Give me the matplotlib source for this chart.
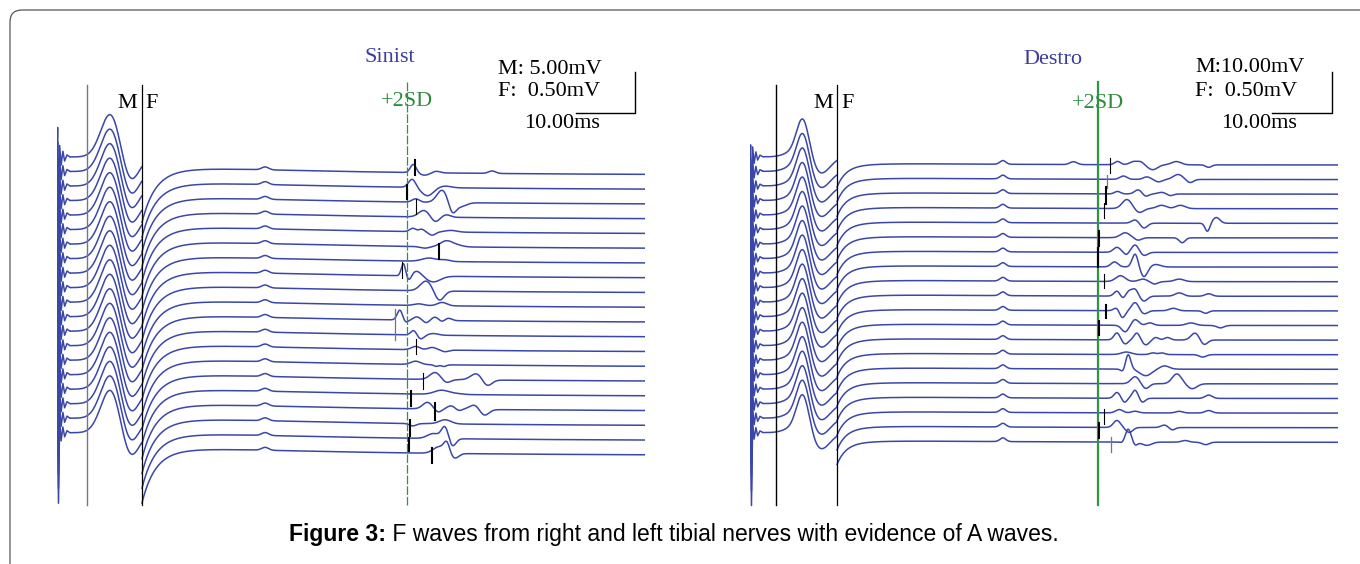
import numpy as np
import matplotlib.pyplot as plt
from matplotlib.patches import FancyBboxPatch

W, H = 1360, 564
PX_PER_MV = 82.0   # F gain: 0.50 mV = 41 px on the scale bar
SWEEP_MS = 100.0
N_TRACES = 20
TRACE_COLOR = '#3b47a8'

# ---------------- Sinist (left) ----------------
L_X0 = 57            # stimulus position, px
L_Y0 = 175           # first F baseline, px
L_M_GAIN = 10.0      # M 5.00 mV vs F 0.50 mV
L_M_OFFSET = 0.22    # M baseline above F baseline (F-mV)
L_SPACING_M = 0.177
L_SPACING_F = 0.180
L_MARKERS = {'grey': 5.1, 'MF': 14.45, 'sd': 59.6}
L_ART_MS = [0.0, 0.1, 0.25, 0.45, 0.7, 1.0, 1.3, 1.7, 2.2]
L_ART_MV = [0.0, 3.6, -8.6, 1.4, -1.0, 0.7, -0.5, 0.25, 0.0]
L_M_WAVE = [(9.2, 5.5, 1.7), (12.3, -3.4, 1.5)]           # (ms, mV, width)
L_RECOVERY = [(-0.60, 2.2), (-0.12, 7.0), (0.14, 30.0)]   # (mV, tau ms)
L_COMMON = [(35.4, 0.035, 0.6)]
L_F_WAVES = [
    [(60.6, 0.10, 0.5), (62.5, -0.03, 0.8), (64.5, 0.02, 0.6), (74.0, 0.03, 0.6)],
    [(60.4, 0.10, 0.6), (63.0, -0.10, 1.0), (66.0, 0.02, 1.0)],
    [(61.0, 0.04, 0.6), (65.5, 0.15, 0.9), (67.2, -0.12, 0.6), (68.5, -0.05, 1.0)],
    [(62.4, 0.08, 0.9), (64.3, -0.06, 0.7), (66.2, 0.03, 0.7)],
    [(60.5, 0.04, 0.5), (62.0, 0.03, 0.5), (63.8, -0.04, 0.6), (67.0, 0.02, 1.0)],
    [(62.5, -0.02, 0.8), (66.2, 0.07, 1.0), (68.0, 0.02, 1.0)],
    [(63.3, 0.04, 1.2), (66.0, 0.02, 0.8)],
    [(58.9, 0.15, 0.35), (59.9, -0.06, 0.4), (61.2, 0.06, 0.8), (64.0, -0.07, 1.2)],
    [(62.8, 0.12, 1.0), (65.0, -0.12, 0.8)],
    [(61.5, 0.02, 0.8), (65.5, 0.04, 0.8)],
    [(58.3, 0.12, 0.45), (59.3, -0.03, 0.4), (61.2, 0.04, 0.6), (62.8, -0.03, 0.5),
     (64.3, 0.04, 0.6), (65.5, -0.02, 0.5), (66.5, 0.03, 0.6)],
    [(60.7, 0.06, 0.5), (61.8, -0.05, 0.6), (64.0, 0.02, 0.8)],
    [(61.0, 0.04, 0.7), (63.8, 0.03, 0.7), (66.0, -0.02, 0.6)],
    [(61.0, 0.04, 0.8), (64.5, -0.02, 0.4), (65.8, -0.02, 0.4)],
    [(64.3, 0.085, 0.9), (66.2, -0.04, 0.7), (71.4, 0.08, 1.0), (73.1, -0.08, 0.8)],
    [(65.4, 0.05, 1.2), (68.0, 0.01, 1.0)],
    [(63.0, 0.08, 0.8), (64.8, -0.04, 0.6), (67.0, 0.04, 0.7), (68.3, -0.02, 0.5),
     (71.1, 0.06, 0.9), (72.6, -0.08, 0.8)],
    [(60.5, -0.03, 0.6), (66.0, 0.05, 1.0)],
    [(64.0, 0.06, 1.0), (66.0, 0.15, 0.6), (67.2, -0.10, 0.6)],
    [(65.0, 0.08, 1.0), (66.3, 0.12, 0.5), (67.6, -0.06, 0.7)],
]
# (trace, ms, top mV, bottom mV, style)
L_TICKS = [
    (0, 60.8, 0.18, 0.0, 'thick'), (1, 59.6, 0.06, -0.11, 'thick'),
    (2, 61.0, 0.07, -0.11, 'thin'), (5, 64.9, 0.06, -0.12, 'thick'),
    (7, 58.7, 0.20, 0.01, 'thin'), (10, 57.5, 0.16, -0.21, 'grey'),
    (12, 61.0, 0.16, -0.02, 'thin'), (14, 62.3, 0.10, -0.09, 'thin'),
    (15, 60.2, 0.07, -0.12, 'thick'), (16, 64.3, 0.10, -0.11, 'thick'),
    (17, 60.1, 0.07, -0.12, 'thick'), (18, 59.9, 0.03, -0.12, 'thick'),
    (19, 63.7, 0.09, -0.09, 'thick'),
]

# ---------------- Destro (right) ----------------
R_X0 = 750
R_Y0 = 165
R_M_GAIN = 20.0      # M 10.00 mV vs F 0.50 mV
R_M_OFFSET = 0.10
R_SPACING_M = 0.177
R_SPACING_F = 0.178
R_MARKERS = {'grey': 4.4, 'MF': 14.8, 'sd': 59.2}
R_ART_MS = [0.0, 0.1, 0.25, 0.45, 0.7, 1.0, 1.3, 1.7, 2.2]
R_ART_MV = [0.0, 2.9, -17.8, 2.4, -1.6, 1.2, -0.8, 0.4, 0.0]
R_M_WAVE = [(6.5, 0.7, 1.2), (9.0, 9.8, 1.1), (12.0, -4.1, 1.6)]
R_RECOVERY = [(-0.25, 1.5), (-0.06, 6.0), (0.04, 20.0)]
R_COMMON = [(43.0, 0.045, 0.5)]
R_F_WAVES = [
    [(55.0, 0.035, 0.6), (62.5, 0.04, 0.5), (65.3, 0.04, 0.7), (66.5, 0.03, 0.5),
     (68.5, -0.06, 0.8), (72.5, 0.04, 0.8), (78.0, -0.03, 0.5)],
    [(63.5, 0.04, 0.6), (67.5, 0.03, 0.6), (69.5, -0.03, 0.6), (72.8, 0.06, 0.8), (74.8, -0.04, 0.6)],
    [(62.5, 0.03, 0.5), (66.0, 0.05, 0.6), (67.3, -0.03, 0.5), (70.0, 0.02, 0.6), (71.5, -0.02, 0.5)],
    [(64.1, 0.11, 0.8), (66.2, -0.05, 0.7), (70.0, 0.04, 0.8), (73.2, 0.04, 0.8)],
    [(65.5, 0.04, 0.6), (67.0, -0.06, 0.6), (77.8, -0.10, 0.4), (79.3, 0.07, 0.6)],
    [(63.8, 0.06, 0.8), (66.0, -0.03, 0.6), (73.5, -0.06, 0.5)],
    [(62.4, 0.06, 0.6), (64.0, -0.03, 0.4), (65.5, 0.09, 0.6), (67.0, -0.04, 0.6)],
    [(62.0, 0.06, 0.6), (65.5, 0.16, 0.5), (67.0, -0.12, 0.6), (69.0, 0.03, 0.8)],
    [(63.0, 0.07, 0.8), (66.8, 0.03, 0.7), (68.8, -0.03, 0.6), (73.0, 0.03, 0.8)],
    [(62.4, 0.06, 0.5), (63.4, -0.03, 0.4), (64.5, 0.06, 0.5), (65.5, 0.08, 0.5),
     (67.0, -0.06, 0.6), (73.0, 0.04, 0.7), (78.0, 0.03, 0.6)],
    [(62.4, 0.04, 0.5), (63.3, -0.09, 0.5), (65.5, 0.10, 0.6), (67.0, -0.04, 0.6),
     (72.0, 0.03, 0.7), (77.5, -0.03, 0.5)],
    [(63.8, -0.08, 0.6), (65.5, 0.07, 0.6), (68.0, 0.03, 0.6), (75.0, 0.03, 0.8), (80.0, -0.03, 0.6)],
    [(62.4, 0.085, 0.5), (63.8, -0.05, 0.5), (65.8, 0.085, 0.5), (67.3, -0.06, 0.6),
     (69.0, 0.03, 0.5), (71.0, 0.03, 0.5), (75.7, 0.085, 0.7), (77.2, -0.06, 0.6)],
    [(64.0, 0.03, 0.8), (68.5, 0.02, 0.5), (70.0, 0.02, 0.5), (77.0, -0.03, 0.6)],
    [(63.5, -0.04, 0.4), (64.3, 0.18, 0.45), (67.3, -0.08, 1.0), (70.5, 0.04, 0.8)],
    [(65.5, 0.085, 0.7), (67.3, -0.06, 0.6), (72.6, 0.12, 0.8), (75.2, -0.06, 0.8)],
    [(62.4, 0.07, 0.5), (63.7, -0.05, 0.4), (65.5, 0.10, 0.5), (66.7, -0.05, 0.5), (78.0, 0.04, 0.6)],
    [(62.8, 0.04, 0.6), (65.5, 0.02, 0.6), (73.0, 0.02, 0.6), (78.0, 0.03, 0.6)],
    [(62.4, 0.085, 0.6), (64.5, -0.06, 0.6), (70.5, 0.03, 0.6), (71.8, -0.03, 0.5)],
    [(63.5, -0.02, 0.4), (64.3, 0.16, 0.5), (65.5, -0.04, 0.4), (67.5, -0.04, 0.8),
     (74.0, 0.02, 0.6), (77.5, -0.03, 0.6)],
]
R_TICKS = [
    (0, 61.2, 0.09, -0.10, 'thin'), (1, 60.7, 0.06, -0.10, 'grey'),
    (2, 60.5, 0.09, -0.12, 'thick'), (3, 60.2, 0.07, -0.11, 'thin'),
    (5, 59.3, 0.09, -0.10, 'thick'), (6, 59.2, 0.06, -0.18, 'thick'),
    (8, 60.2, 0.09, -0.07, 'thin'), (10, 60.5, 0.07, -0.09, 'thick'),
    (11, 59.3, 0.05, -0.12, 'thick'), (17, 60.2, 0.05, -0.13, 'thin'),
    (18, 59.3, 0.06, -0.12, 'thick'), (19, 61.4, 0.06, -0.12, 'grey'),
]

TICK_STYLE = {'thick': ('black', 1.5), 'thin': ('black', 0.8), 'grey': ('#777777', 0.9)}


def bumps(t, comps):
    y = np.zeros_like(t)
    for c, a, w in comps:
        y += a * np.exp(-0.5 * ((t - c) / w) ** 2)
    return y


def px_to_mv(y_px, y0):
    return (y0 - y_px) / PX_PER_MV


def draw_panel(fig, x0, y0, gain, m_offset, sp_m, sp_f, markers, art_ms, art_mv,
               m_wave, recovery, common, f_waves, ticks, sd_style, grey_color):
    ax = fig.add_axes([x0 / W, 0, SWEEP_MS * 5.88 / W, 1])
    ax.set_xlim(0, SWEEP_MS)
    ax.set_ylim(px_to_mv(H, y0), px_to_mv(0, y0))
    ax.axis('off')

    t_mf = markers['MF']
    t_m = np.arange(art_ms[-1], t_mf, 0.05)
    t_f = np.arange(t_mf, SWEEP_MS, 0.05)
    rec = sum(a * np.exp(-(t_f - t_mf) / tau) for a, tau in recovery)
    for i in range(N_TRACES):
        base_m = m_offset - i * sp_m
        base_f = -i * sp_f
        tm = np.concatenate([art_ms, t_m])
        ym = np.concatenate([np.array(art_mv), bumps(t_m, m_wave)]) / gain + base_m
        ax.plot(tm, ym, color=TRACE_COLOR, lw=1.1)
        yf = base_f + rec + bumps(t_f, common) + bumps(t_f, f_waves[i])
        ax.plot(t_f, yf, color=TRACE_COLOR, lw=1.1)

    for i, t, top, bot, style in ticks:
        c, lw = TICK_STYLE[style]
        ax.plot([t, t], [-i * sp_f + bot, -i * sp_f + top], color=c, lw=lw, zorder=4)

    y_top, y_sd, y_bot = px_to_mv(85, y0), px_to_mv(82, y0), px_to_mv(505, y0)
    ax.plot([markers['grey']] * 2, [y_top, y_bot], color=grey_color, lw=1.0)
    ax.plot([t_mf] * 2, [y_top, y_bot], color='black', lw=0.9)
    ax.plot([markers['sd']] * 2, [y_sd, y_bot], color='#2e9440', zorder=3, **sd_style)
    return ax


fig = plt.figure(figsize=(W / 100, H / 100), dpi=100)
bg = fig.add_axes([0, 0, 1, 1])
bg.set_xlim(0, W)
bg.set_ylim(H, 0)
bg.axis('off')
bg.add_patch(FancyBboxPatch((10, 10), 1400, 600, boxstyle='round,pad=0,rounding_size=12',
                            fc='none', ec='#555555', lw=0.9))

draw_panel(fig, L_X0, L_Y0, L_M_GAIN, L_M_OFFSET, L_SPACING_M, L_SPACING_F, L_MARKERS,
           L_ART_MS, L_ART_MV, L_M_WAVE, L_RECOVERY, L_COMMON, L_F_WAVES, L_TICKS,
           dict(lw=0.9, dashes=(7, 1.5)), '#777777')
draw_panel(fig, R_X0, R_Y0, R_M_GAIN, R_M_OFFSET, R_SPACING_M, R_SPACING_F, R_MARKERS,
           R_ART_MS, R_ART_MV, R_M_WAVE, R_RECOVERY, R_COMMON, R_F_WAVES, R_TICKS,
           dict(lw=1.6), 'black')

serif = dict(family='Liberation Serif', fontsize=16, va='center')
green = '#2e8b3e'
# left labels
bg.text(390, 58, 'Sinist', color='#3c3c9c', ha='center', **serif)
bg.text(498, 69, 'M: 5.00mV', ha='left', **serif)
bg.text(498, 92, 'F:  0.50mV', ha='left', **serif)
bg.text(524, 123, '10.00ms', ha='left', **serif)
bg.plot([576, 635, 635], [113, 113, 72], color='black', lw=1.0)
bg.text(127, 103, 'M', ha='center', **serif)
bg.text(152, 103, 'F', ha='center', **serif)
bg.text(407, 102, '+2SD', color=green, ha='center', **serif)
# right labels
bg.text(1053, 60, 'Destro', color='#3c3c9c', ha='center', **serif)
bg.text(1195, 68, 'M:10.00mV', ha='left', **serif)
bg.text(1195, 92, 'F:  0.50mV', ha='left', **serif)
bg.text(1221, 123, '10.00ms', ha='left', **serif)
bg.plot([1272, 1332, 1332], [113, 113, 72], color='black', lw=1.0)
bg.text(823, 103, 'M', ha='center', **serif)
bg.text(848, 103, 'F', ha='center', **serif)
bg.text(1098, 103, '+2SD', color=green, ha='center', **serif)

# caption
cap = dict(family='Liberation Sans', fontsize=16.5, va='center')
bg.text(386, 535, 'Figure 3:', fontweight='bold', ha='right', **cap)
bg.text(386, 535, ' F waves from right and left tibial nerves with evidence of A waves.',
        ha='left', **cap)

fig.savefig('out.png', dpi=100)
